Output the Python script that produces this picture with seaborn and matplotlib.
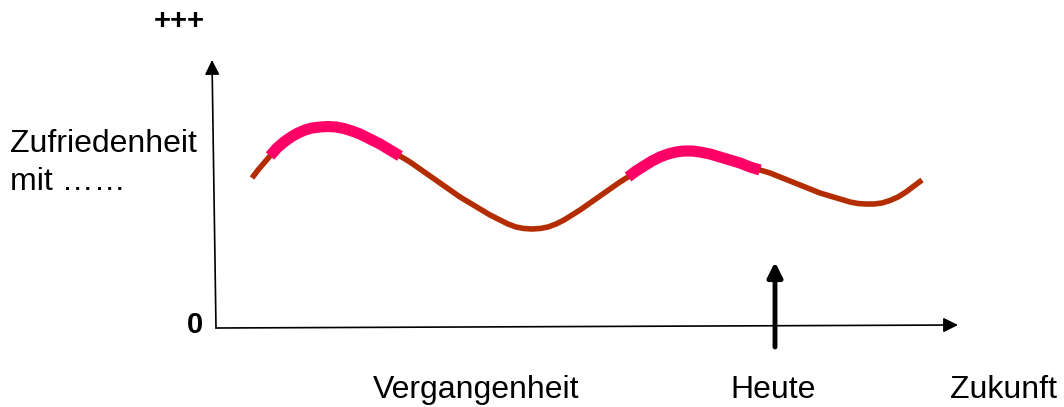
"""Zufriedenheit über die Zeit: Skizze mit Hoch- und Tiefphasen."""

import numpy as np
import pandas as pd

import matplotlib
matplotlib.use("Agg")
import matplotlib.pyplot as plt
import seaborn as sns

ZEIT = [36, 42, 48, 54, 61, 68, 75, 82, 89, 96, 104, 112, 120, 128, 136,
        144, 154, 164, 174, 184, 194, 204, 214, 224, 234, 244, 254, 264,
        274, 284, 292, 300, 308, 316, 324, 332, 340, 348, 356, 364, 374,
        384, 394, 404, 412, 420, 428, 436, 444, 452, 460, 468, 476, 484,
        494, 504, 514, 524, 534, 544, 554, 564, 574, 584, 594, 604, 614,
        624, 634, 642, 650, 658, 666, 674, 682, 690, 698, 706]
ZUFRIEDENHEIT = [150, 158, 165, 172, 180, 186, 191, 195, 198, 200, 201,
                 201.5, 201, 199.5, 197, 194, 189, 184, 178, 172, 166, 159,
                 152, 145, 138, 131, 125, 119, 113, 108, 104, 101, 99.5, 99,
                 99.5, 101, 104, 108, 113, 118, 125, 132, 139, 146, 151,
                 157, 162, 167, 171, 174, 176, 177, 177, 176, 174, 171, 168,
                 165, 161, 158, 155, 151, 147, 143, 139, 135, 132, 129, 126,
                 124.5, 124, 124, 125, 127.5, 131, 136, 142, 148]
# hervorgehobene Phasen (Zeitbereiche)
PHASEN = [(54, 189), (412, 544)]

HEUTE = 559
ACHSE_X_ENDE = (742, 3)
ACHSE_Y_ENDE = (-4, 268)

BRAUN = "#B32D00"
PINK = "#FF0066"


def main():
    sns.set_theme(style="white")
    plt.rcParams["font.family"] = ["Liberation Sans", "DejaVu Sans"]
    plt.rcParams["text.color"] = "black"

    df = pd.DataFrame({"zeit": ZEIT, "zufriedenheit": ZUFRIEDENHEIT})

    fig = plt.figure(figsize=(10.64, 4.07), dpi=100)
    ax = fig.add_axes([0, 0, 1, 1])

    # Achsen als Pfeile
    ax.annotate("", xy=ACHSE_Y_ENDE, xytext=(0, 0),
                arrowprops=dict(arrowstyle="-|>", color="black", lw=1.2,
                                mutation_scale=22, shrinkA=0, shrinkB=0))
    ax.annotate("", xy=ACHSE_X_ENDE, xytext=(0, 0),
                arrowprops=dict(arrowstyle="-|>", color="black", lw=1.2,
                                mutation_scale=22, shrinkA=0, shrinkB=0))
    # Heute-Pfeil
    ax.annotate("", xy=(HEUTE, 66), xytext=(HEUTE, -19),
                arrowprops=dict(arrowstyle="-|>", color="black", lw=3.5,
                                mutation_scale=22, shrinkA=0, shrinkB=0))

    sns.lineplot(data=df, x="zeit", y="zufriedenheit", ax=ax, color=BRAUN,
                 linewidth=4, estimator=None, sort=False,
                 solid_capstyle="butt", solid_joinstyle="round")
    for t0, t1 in PHASEN:
        sub = df[(df.zeit >= t0) & (df.zeit <= t1)]
        sns.lineplot(data=sub, x="zeit", y="zufriedenheit", ax=ax, color=PINK,
                     linewidth=8, estimator=None, sort=False,
                     solid_capstyle="butt", solid_joinstyle="round")
    ax.set_xlim(-216, 848)
    ax.set_ylim(-79, 328)
    ax.axis("off")

    fs = 23
    ax.text(-37, 307, "+++", fontsize=21, fontweight="bold", ha="center", va="center")
    ax.text(-13, -5, "0", fontsize=21, fontweight="bold", ha="right", va="baseline")
    ax.text(-206, 176, "Zufriedenheit", fontsize=fs, ha="left", va="baseline")
    ax.text(-206, 138, "mit ……", fontsize=fs, ha="left", va="baseline")
    ax.text(157, -70, "Vergangenheit", fontsize=fs, ha="left", va="baseline")
    ax.text(514, -70, "Heute", fontsize=fs, ha="left", va="baseline")
    ax.text(734, -70, "Zukunft", fontsize=fs, ha="left", va="baseline")

    fig.savefig("out.png", dpi=100)
    plt.close(fig)


if __name__ == "__main__":
    main()
